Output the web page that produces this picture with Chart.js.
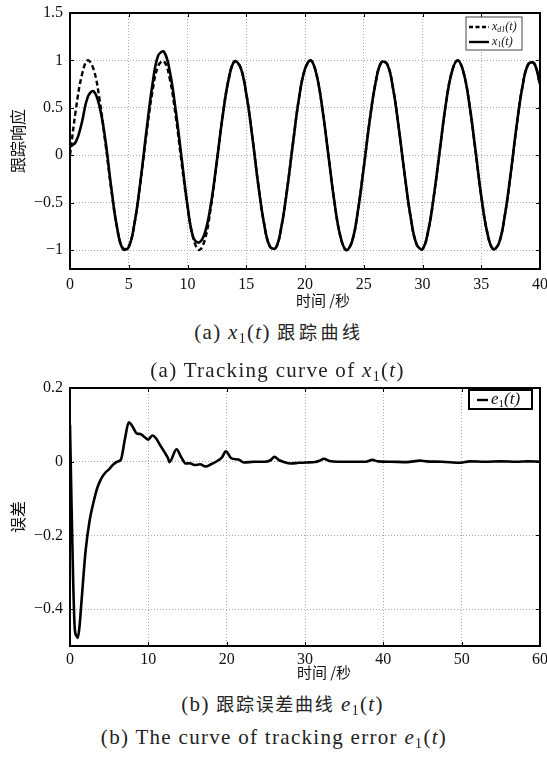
<!DOCTYPE html>
<html><head><meta charset="utf-8">
<script src="https://cdn.jsdelivr.net/npm/chart.js@4.4.0/dist/chart.umd.min.js"></script>
<style>
html,body{margin:0;padding:0;background:#fff;}
body{width:547px;height:758px;position:relative;overflow:hidden;font-family:"Liberation Serif",serif;}
canvas{position:absolute;left:0;}
.cap{position:absolute;left:0;width:547px;height:24px;line-height:24px;text-align:center;font-family:"Liberation Serif",serif;font-size:21px;letter-spacing:1.3px;color:#222;white-space:nowrap;box-sizing:border-box;}
.cap i{font-style:italic;}
.cap .sb{font-size:14px;position:relative;top:4px;}
.cap .cjk{font-family:"Noto Sans CJK SC",sans-serif;font-size:18px;letter-spacing:1.7px;}
.xt{position:absolute;width:120px;height:20px;line-height:20px;text-align:center;font-family:"Noto Sans CJK SC",sans-serif;font-size:15px;color:#111;white-space:nowrap;}
</style></head>
<body>
<canvas id="c1" width="547" height="310" style="top:0px"></canvas>
<canvas id="c2" width="547" height="310" style="top:370px"></canvas>
<div class="xt" style="left:263px;top:290px">时间 /秒</div>
<div class="xt" style="left:264px;top:662px">时间 /秒</div>
<div class="cap" style="top:319px;padding-left:11px">(a) <i>x</i><span class="sb">1</span>(<i>t</i>) <span class="cjk" style="letter-spacing:3.6px">跟踪曲线</span></div>
<div class="cap" style="top:358px;padding-left:8px">(a) Tracking curve of <i>x</i><span class="sb">1</span>(<i>t</i>)</div>
<div class="cap" style="top:691px;padding-left:18px">(b) <span class="cjk">跟踪误差曲线</span> <i>e</i><span class="sb">1</span>(<i>t</i>)</div>
<div class="cap" style="top:725px;padding-left:1px">(b) The curve of tracking error <i>e</i><span class="sb">1</span>(<i>t</i>)</div>
<script>
// ---------- data: chart (a) ----------
const timeA = [0,0.5,1,1.5,2,2.5,3,3.5,4,4.5,5,5.5,6,6.5,7,7.5,8,8.5,9,9.5,10,10.5,11,11.5,12,12.5,13,13.5,14,14.5,15,15.5,16,16.5,17,17.5,18,18.5,19,19.5,20,20.5,21,21.5,22,22.5,23,23.5,24,24.5,25,25.5,26,26.5,27,27.5,28,28.5,29,29.5,30,30.5,31,31.5,32,32.5,33,33.5,34,34.5,35,35.5,36,36.5,37,37.5,38,38.5,39,39.5,40];
const xd1 = [0,0.48,0.84,1.0,0.91,0.6,0.14,-0.35,-0.76,-0.98,-0.96,-0.71,-0.28,0.22,0.66,0.94,0.99,0.8,0.41,-0.08,-0.54,-0.88,-1.0,-0.88,-0.54,-0.07,0.42,0.8,0.99,0.93,0.65,0.21,-0.29,-0.71,-0.96,-0.98,-0.75,-0.34,0.15,0.61,0.91,1.0,0.84,0.47,-0.01,-0.49,-0.85,-1.0,-0.91,-0.59,-0.13,0.36,0.76,0.98,0.96,0.7,0.27,-0.22,-0.66,-0.94,-0.99,-0.79,-0.4,0.08,0.55,0.88,1.0,0.87,0.53,0.06,-0.43,-0.81,-0.99,-0.93,-0.64,-0.2,0.3,0.72,0.96,0.97,0.75];
const x1 = [0.09,0.14,0.34,0.61,0.675,0.52,0.17,-0.33,-0.76,-0.99,-0.97,-0.71,-0.27,0.25,0.73,1.05,1.09,0.88,0.47,-0.03,-0.53,-0.87,-0.92,-0.81,-0.51,-0.06,0.42,0.8,0.99,0.93,0.65,0.21,-0.29,-0.71,-0.96,-0.98,-0.75,-0.34,0.15,0.61,0.91,1.0,0.84,0.47,-0.01,-0.49,-0.85,-1.0,-0.91,-0.59,-0.13,0.36,0.76,0.98,0.96,0.7,0.27,-0.22,-0.66,-0.94,-0.99,-0.79,-0.4,0.08,0.55,0.88,1.0,0.87,0.53,0.06,-0.43,-0.81,-0.99,-0.93,-0.64,-0.2,0.3,0.72,0.96,0.97,0.75];
const xTicksA = [0,5,10,15,20,25,30,35,40];
const yTicksA = [-1,-0.5,0,0.5,1,1.5];

// ---------- data: chart (b) ----------
const timeB = [0,0.2,0.4,0.6,0.8,1.0,1.2,1.5,2.0,2.5,3.0,3.5,4.0,4.5,5.0,5.5,6.0,6.5,7.0,7.5,8.0,8.5,9.0,9.5,10.0,10.5,11.0,11.5,12.0,12.5,12.7,13.6,14.2,14.8,15.3,15.9,16.6,17.3,18.0,18.8,19.4,19.9,20.6,21.5,22.2,23.5,24.9,25.6,26.1,26.7,27.2,28.2,29.2,30.2,31.3,31.9,32.4,33.1,34.2,36,37.8,38.6,39.3,41,43,44.7,45.5,47.5,49.9,51,53,55,57,58.5,60];
const e1 = [0.1,-0.12,-0.32,-0.45,-0.472,-0.478,-0.45,-0.37,-0.24,-0.16,-0.11,-0.07,-0.045,-0.03,-0.02,-0.008,0.0,0.006,0.06,0.107,0.095,0.077,0.075,0.067,0.06,0.071,0.063,0.045,0.028,0.01,-0.001,0.034,0.012,-0.005,-0.004,-0.009,-0.007,-0.013,-0.007,0.002,0.012,0.028,0.009,0.006,-0.002,0.0,0.0,0.004,0.013,0.004,0.0,-0.005,-0.003,-0.002,-0.001,0.003,0.008,0.002,0.0,0.0,0.0,0.005,0.001,0.0,-0.001,0.003,0.001,0.0,-0.003,0.001,0.0,0.001,0.0,0.001,0.0];
const xTicksB = [0,10,20,30,40,50,60];
const yTicksB = [-0.4,-0.2,0,0.2];

const TICK_FONT = {family:'Liberation Serif', size:16};
const fmt = v => String(Math.round(v*100)/100).replace('-', '\u2212');
const pts = (xs, ys) => xs.map((x,i)=>({x:x, y:ys[i]}));
const zeroPad = s => { s.paddingLeft = 0; s.paddingRight = 0; s.paddingTop = 0; s.paddingBottom = 0; };

function drawRich(ctx, parts, x, y){
  parts.forEach(p=>{
    ctx.font = (p[2]?'italic ':'') + p[1] + 'px "Liberation Serif", serif';
    ctx.fillText(p[0], x, y + (p[3]||0));
    x += ctx.measureText(p[0]).width;
  });
}

const framePlugin = {
  id:'frame',
  afterDraw(chart, args, opts){
    const {ctx, chartArea:a, scales} = chart;
    ctx.save();
    ctx.strokeStyle = '#000';
    ctx.lineWidth = 1;
    const L = 4;
    ctx.beginPath();
    scales.x.ticks.forEach(t=>{
      const p = Math.round(scales.x.getPixelForValue(t.value))+0.5;
      ctx.moveTo(p, a.bottom); ctx.lineTo(p, a.bottom-L);
      ctx.moveTo(p, a.top); ctx.lineTo(p, a.top+L);
    });
    scales.y.ticks.forEach(t=>{
      const p = Math.round(scales.y.getPixelForValue(t.value))+0.5;
      ctx.moveTo(a.left, p); ctx.lineTo(a.left+L, p);
      ctx.moveTo(a.right, p); ctx.lineTo(a.right-L, p);
    });
    ctx.stroke();
    ctx.lineWidth = 2;
    ctx.strokeRect(a.left, a.top, a.right-a.left, a.bottom-a.top);
    const lg = opts.legend;
    if (lg){
      const bx = a.right - lg.right - lg.w, by = a.top + lg.top;
      ctx.fillStyle = '#fff';
      ctx.fillRect(bx, by, lg.w, lg.h);
      ctx.lineWidth = lg.border;
      ctx.strokeStyle = lg.borderColor;
      ctx.strokeRect(bx, by, lg.w, lg.h);
      ctx.fillStyle = '#111';
      ctx.textBaseline = 'middle';
      ctx.textAlign = 'left';
      lg.items.forEach((it, i)=>{
        const yy = by + lg.row0 + i*lg.rowH;
        ctx.strokeStyle = '#000';
        ctx.lineWidth = 2.4;
        ctx.setLineDash(it.dash || []);
        ctx.beginPath(); ctx.moveTo(bx+lg.l0, yy); ctx.lineTo(bx+lg.l1, yy); ctx.stroke();
        ctx.setLineDash([]);
        drawRich(ctx, it.parts, bx+lg.tx, yy);
      });
    }
    ctx.restore();
  }
};

const gridOpts = {color:'#a8a8a8', lineWidth:1, drawTicks:false};
const borderOpts = {display:false, dash:[1,2]};
const CJK = '"Noto Sans CJK SC", sans-serif';

new Chart(document.getElementById('c1'), {
  type:'line',
  data:{datasets:[
    {label:'x_d1(t)', data:pts(timeA, xd1), borderColor:'#000', borderWidth:2.4, borderDash:[5,3], pointRadius:0, tension:0.4, order:1, fill:false},
    {label:'x_1(t)', data:pts(timeA, x1), borderColor:'#000', borderWidth:2.6, pointRadius:0, tension:0.4, order:0, fill:false}
  ]},
  options:{
    responsive:false, animation:false, devicePixelRatio:1,
    layout:{padding:{top:13,right:7,left:0,bottom:0}},
    plugins:{legend:{display:false}, tooltip:{enabled:false},
      frame:{legend:{w:56,h:33,right:18,top:4,border:1,borderColor:'#444',row0:10,rowH:15,l0:3,l1:23,tx:26,
        items:[
          {dash:[4,2.5], parts:[['x',12,true,0],['d1',8,true,3],['(t)',12,true,0]]},
          {parts:[['x',12,true,0],['1',8,false,3],['(t)',12,true,0]]}
        ]}}},
    scales:{
      x:{type:'linear', min:0, max:40,
        afterBuildTicks:s=>{s.ticks = xTicksA.map(v=>({value:v}));},
        afterFit:s=>{s.height = 41; zeroPad(s);},
        ticks:{font:TICK_FONT, color:'#111', padding:6, maxRotation:0, autoSkip:false, callback:v=>fmt(v)},
        grid:gridOpts, border:borderOpts,
        title:{display:false, text:'时间 /秒'}},
      y:{type:'linear', min:-1.2, max:1.5,
        afterBuildTicks:s=>{s.ticks = yTicksA.map(v=>({value:v}));},
        afterFit:s=>{s.width = 70; zeroPad(s);},
        ticks:{font:TICK_FONT, color:'#111', padding:7, autoSkip:false, callback:v=>fmt(v)},
        grid:gridOpts, border:borderOpts,
        title:{display:true, text:'跟踪响应', color:'#111', font:{family:CJK, size:16, lineHeight:1.2}, padding:{top:8,bottom:0}}}
    }
  },
  plugins:[framePlugin]
});

new Chart(document.getElementById('c2'), {
  type:'line',
  data:{datasets:[
    {label:'e_1(t)', data:pts(timeB, e1), borderColor:'#000', borderWidth:2.6, pointRadius:0, cubicInterpolationMode:'monotone', fill:false}
  ]},
  options:{
    responsive:false, animation:false, devicePixelRatio:1,
    layout:{padding:{top:18,right:7,left:0,bottom:0}},
    plugins:{legend:{display:false}, tooltip:{enabled:false},
      frame:{legend:{w:63,h:19,right:8,top:2,border:2,borderColor:'#000',row0:10,rowH:0,l0:8,l1:19,tx:22,
        items:[
          {parts:[['e',17,true,0],['1',11,false,4],['(t)',17,true,0]]}
        ]}}},
    scales:{
      x:{type:'linear', min:0, max:60,
        afterBuildTicks:s=>{s.ticks = xTicksB.map(v=>({value:v}));},
        afterFit:s=>{s.height = 34; zeroPad(s);},
        ticks:{font:TICK_FONT, color:'#111', padding:4, maxRotation:0, autoSkip:false, callback:v=>fmt(v)},
        grid:gridOpts, border:borderOpts,
        title:{display:false, text:'时间 /秒'}},
      y:{type:'linear', min:-0.5, max:0.2,
        afterBuildTicks:s=>{s.ticks = yTicksB.map(v=>({value:v}));},
        afterFit:s=>{s.width = 70; zeroPad(s);},
        ticks:{font:TICK_FONT, color:'#111', padding:7, autoSkip:false, callback:v=>fmt(v)},
        grid:gridOpts, border:borderOpts,
        title:{display:true, text:'误差', color:'#111', font:{family:CJK, size:16, lineHeight:1.2}, padding:{top:8,bottom:0}}}
    }
  },
  plugins:[framePlugin]
});
</script>
</body></html>
